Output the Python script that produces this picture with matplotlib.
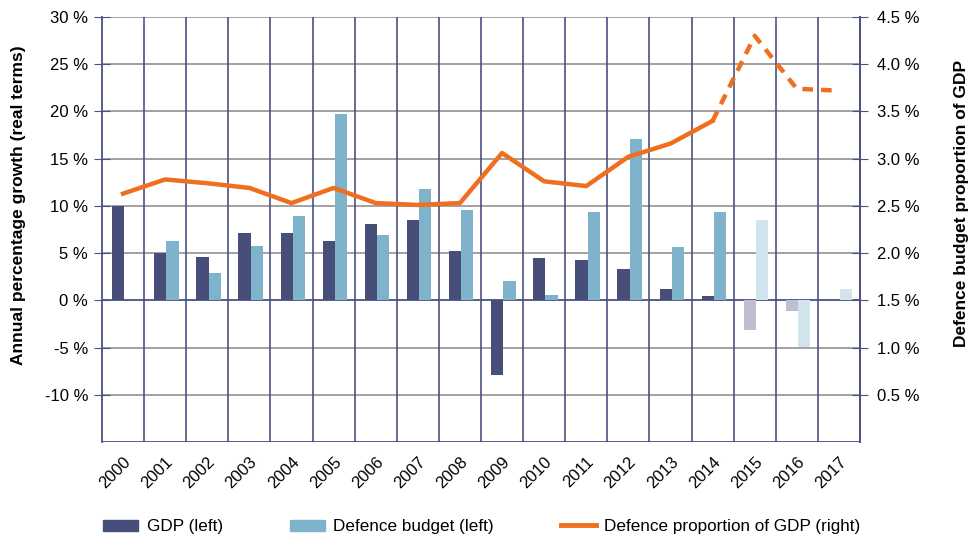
import numpy as np
import matplotlib
matplotlib.use('Agg')
import matplotlib.pyplot as plt
from matplotlib.patches import Patch
from matplotlib.lines import Line2D

years = [str(y) for y in range(2000, 2018)]
gdp_growth = [10.0, 5.0, 4.6, 7.1, 7.1, 6.25, 8.1, 8.5, 5.2, -7.9, 4.45, 4.3, 3.3, 1.25, 0.45, -3.1, -1.1, np.nan]
defence_growth = [np.nan, 6.25, 2.9, 5.8, 8.9, 19.7, 6.9, 11.8, 9.6, 2.1, 0.6, 9.4, 17.1, 5.6, 9.35, 8.5, -4.9, 1.25]
defence_share = [2.63, 2.78, 2.74, 2.69, 2.53, 2.69, 2.53, 2.51, 2.53, 3.06, 2.76, 2.71, 3.02, 3.16, 3.40, 4.30, 3.74, 3.72]
forecast = [False] * 15 + [True] * 3
last_actual = 14  # 2014: line turns dashed after this

left_ticks = [-10, -5, 0, 5, 10, 15, 20, 25, 30]
right_ticks = [0.5, 1.0, 1.5, 2.0, 2.5, 3.0, 3.5, 4.0, 4.5]

GDP_C, GDP_LIGHT = '#474e79', '#bdbfd1'
DEF_C, DEF_LIGHT = '#7fb3cc', '#d1e4ed'
ORANGE = '#ef6f1f'
VGRID = '#4b5283'
HGRID = '#9a9a9a'

plt.rcParams['font.family'] = ['Liberation Sans', 'DejaVu Sans']

fig = plt.figure(figsize=(9.79, 5.38), dpi=100)
ax = fig.add_axes([102 / 979, 96 / 538, 758 / 979, 425 / 538])
x = np.arange(len(years))
w = 0.29

ax.bar(x - w / 2 + 0.03, gdp_growth, w, color=[GDP_LIGHT if f else GDP_C for f in forecast], zorder=3)
ax.bar(x + w / 2 + 0.03, defence_growth, w, color=[DEF_LIGHT if f else DEF_C for f in forecast], zorder=3)

ax.set_xlim(-0.5, len(years) - 0.5)
ax.set_ylim(-15, 30)
ax.set_yticks(left_ticks)
ax.set_yticklabels([f'{t} %' for t in left_ticks], fontsize=12)
ax.set_xticks(x)
ax.set_xticklabels(years, rotation=45, ha='right', rotation_mode='anchor', fontsize=12)
ax.tick_params(axis='x', length=0, pad=9)
ax.tick_params(axis='y', direction='inout', length=12, color=VGRID, pad=4)

for t in [-15] + left_ticks:
    ax.axhline(t, color=VGRID if t in (0, -15) else HGRID, lw=1.3, zorder=1)
for b in np.arange(0.5, len(years) - 0.5):
    ax.axvline(b, color=VGRID, lw=1.2, zorder=1)
for s in ['top', 'bottom']:
    ax.spines[s].set_visible(False)
for s in ['left', 'right']:
    ax.spines[s].set_color(VGRID)
    ax.spines[s].set_linewidth(1.3)
ax.set_ylabel('Annual percentage growth (real terms)', fontsize=12.5, fontweight='bold')
ax.yaxis.set_label_coords(-76 / 758, (442 - 205) / 425)

ax2 = ax.twinx()
ax2.set_ylim(0, 4.5)
ax2.set_yticks(right_ticks)
ax2.set_yticklabels([f'{t:.1f} %' for t in right_ticks], fontsize=12)
ax2.tick_params(axis='y', direction='inout', length=12, color=VGRID, pad=6)
for s in ['top', 'bottom', 'left']:
    ax2.spines[s].set_visible(False)
ax2.spines['right'].set_color(VGRID)
ax2.spines['right'].set_linewidth(1.3)
ax2.plot(x[:last_actual + 1], defence_share[:last_actual + 1], color=ORANGE, lw=3.2, zorder=4)
ax2.plot(x[last_actual:], defence_share[last_actual:], color=ORANGE, lw=3.2,
         linestyle=(0, (2.4, 1.8)), zorder=4)
ax2.set_ylabel('Defence budget proportion of GDP', fontsize=12.5, fontweight='bold')
ax2.yaxis.set_label_coords((954 - 102) / 758, (442 - 203) / 425)

handles = [Patch(color=GDP_C), Patch(color=DEF_C), Line2D([], [], color=ORANGE, lw=3.5)]
labels = ['GDP (left)', 'Defence budget (left)', 'Defence proportion of GDP (right)']
fig.legend(handles, labels, loc='lower left', bbox_to_anchor=(88 / 979, -0.022), ncol=3,
           frameon=False, fontsize=12.3, handlelength=2.05, handletextpad=0.5,
           columnspacing=3.9)

fig.savefig('out.png', dpi=100)
